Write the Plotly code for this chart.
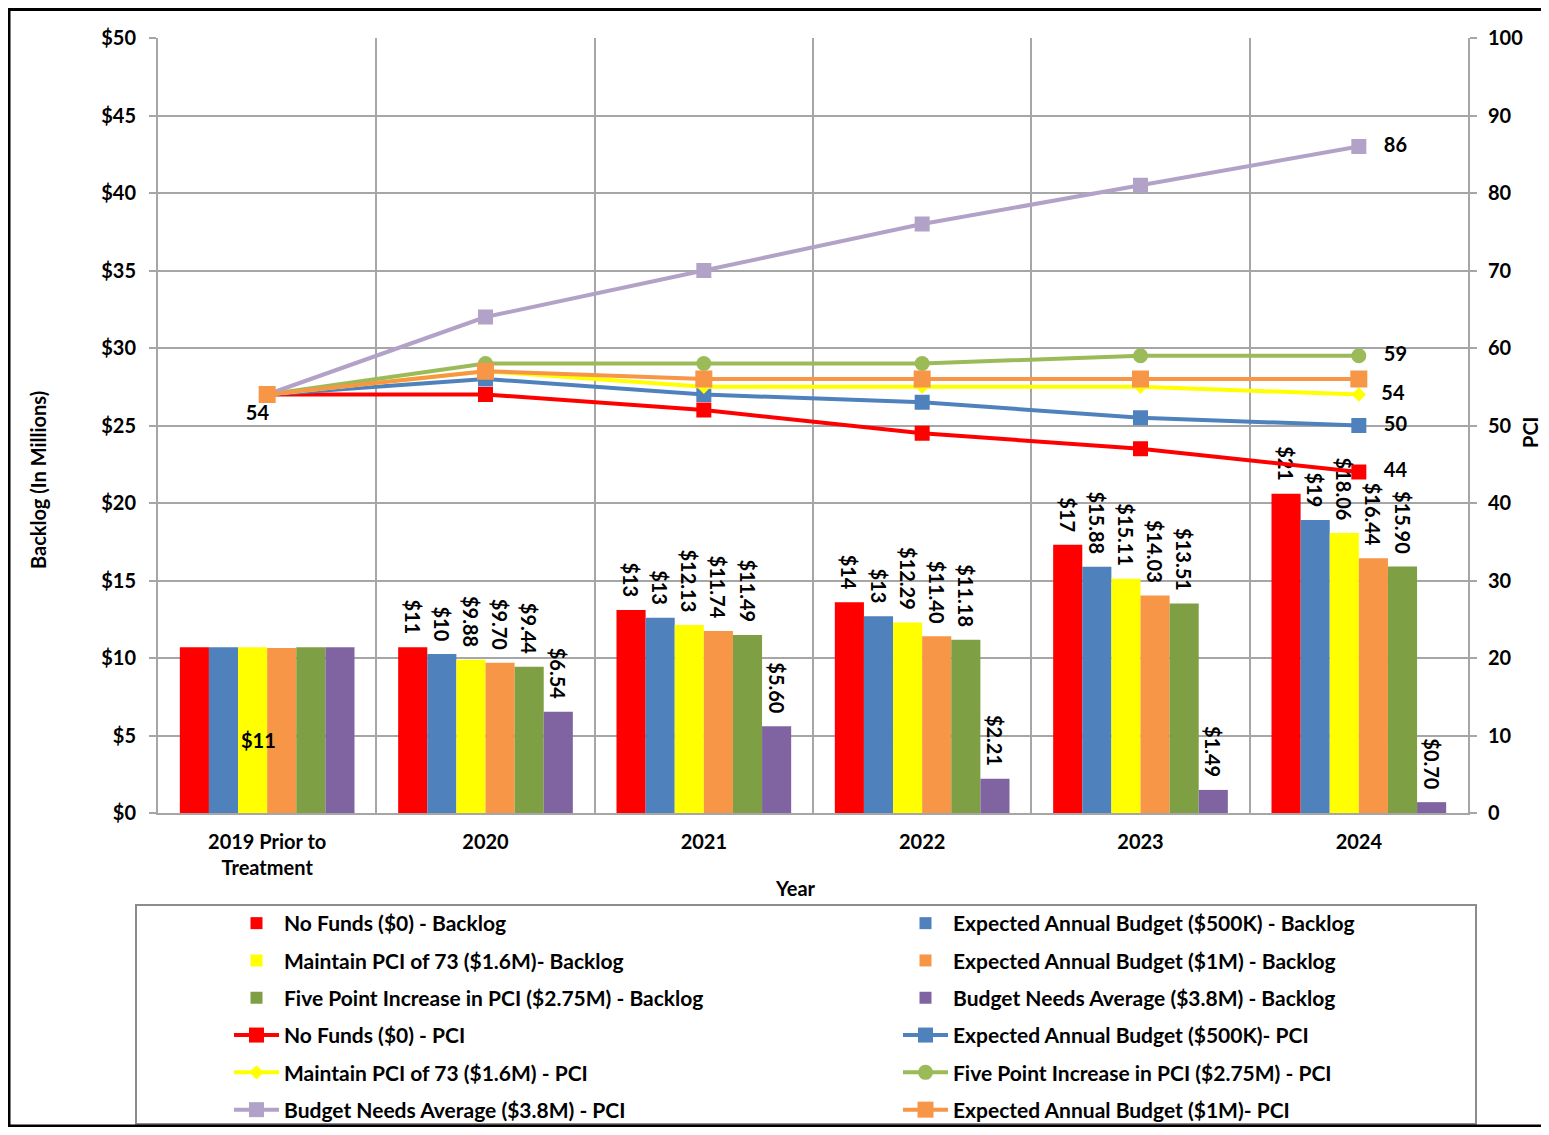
import plotly.graph_objects as go

years = ["2019 Prior to<br>Treatment", "2020", "2021", "2022", "2023", "2024"]

# Backlog ($ millions)
bl_nofunds = [10.7, 10.7, 13.1, 13.6, 17.3, 20.6]
bl_500k = [10.7, 10.26, 12.6, 12.7, 15.88, 18.9]
bl_maintain = [10.7, 9.88, 12.13, 12.29, 15.11, 18.06]
bl_1m = [10.65, 9.70, 11.74, 11.40, 14.03, 16.44]
bl_five = [10.7, 9.44, 11.49, 11.18, 13.51, 15.90]
bl_needs = [10.7, 6.54, 5.60, 2.21, 1.49, 0.70]

# Bar data labels as printed
lb_nofunds = ["", "$11", "$13", "$14", "$17", "$21"]
lb_500k = ["", "$10", "$13", "$13", "$15.88", "$19"]
lb_maintain = ["", "$9.88", "$12.13", "$12.29", "$15.11", "$18.06"]
lb_1m = ["", "$9.70", "$11.74", "$11.40", "$14.03", "$16.44"]
lb_five = ["", "$9.44", "$11.49", "$11.18", "$13.51", "$15.90"]
lb_needs = ["", "$6.54", "$5.60", "$2.21", "$1.49", "$0.70"]

# PCI
pci_nofunds = [54, 54, 52, 49, 47, 44]
pci_500k = [54, 56, 54, 53, 51, 50]
pci_maintain = [54, 57, 55, 55, 55, 54]
pci_five = [54, 58, 58, 58, 59, 59]
pci_needs = [54, 64, 70, 76, 81, 86]
pci_1m = [54, 57, 56, 56, 56, 56]

FONT = "Lato"
FS = 20
OFF = 8  # page body margin
W, H = 1549 - 2 * OFF, 1135 - 2 * OFF
L, R, T, B = 158 - OFF, 1468 - OFF, 38 - OFF, 813 - OFF


def px2x(px):
    return (px - OFF - L) / (R - L)


def px2y(py):
    return (B - (py - OFF)) / (B - T)


def cx(px):
    return (px - OFF) / W


def cy(py):
    return 1 - (py - OFF) / H


NB = "\u00a0"
fig = go.Figure()

bar_specs = [
    ("No Funds ($0) - Backlog", bl_nofunds, lb_nofunds, "#FF0000", "legend"),
    ("Expected Annual Budget ($500K) - Backlog", bl_500k, lb_500k, "#4F81BD", "legend2"),
    ("Maintain PCI of 73 ($1.6M)- Backlog", bl_maintain, lb_maintain, "#FFFF00", "legend"),
    ("Expected Annual Budget ($1M) - Backlog", bl_1m, lb_1m, "#F79646", "legend2"),
    ("Five Point Increase in PCI ($2.75M) - Backlog", bl_five, lb_five, "#7F9F45", "legend"),
    ("Budget Needs Average ($3.8M) - Backlog", bl_needs, lb_needs, "#8064A2", "legend2"),
]
for i, (name, vals, labels, color, lg) in enumerate(bar_specs):
    fig.add_trace(go.Bar(
        x=years, y=vals, name=name, marker=dict(color=color, line=dict(width=0)),
        text=[(t + NB * 2) if t else "" for t in labels],
        textposition="outside", textangle=90, constraintext="none",
        textfont=dict(family=FONT, size=FS, color="black", weight="bold"),
        cliponaxis=False, legend=lg, legendgroup=f"g{i}",
    ))


def lbl(vals, first=False):
    t = [""] * len(vals)
    t[-1] = NB * 3 + str(vals[-1])
    if first:
        t[0] = str(vals[0]) + NB * 4
    return t


def pos(vals, first=False):
    p = ["middle right"] * len(vals)
    if first:
        p[0] = "bottom center"
    return p


line_specs = [
    ("No Funds ($0) - PCI", pci_nofunds, "#FF0000", "square", 15, True, True, "legend"),
    ("Expected Annual Budget ($500K)- PCI", pci_500k, "#4F81BD", "square", 15, True, False, "legend2"),
    ("Maintain PCI of 73 ($1.6M) - PCI", pci_maintain, "#FFFF00", "diamond", 11, True, False, "legend"),
    ("Five Point Increase in PCI ($2.75M) - PCI", pci_five, "#9BBB59", "circle", 15, True, False, "legend2"),
    ("Budget Needs Average ($3.8M) - PCI", pci_needs, "#B3A2C7", "square", 15, True, False, "legend"),
    ("Expected Annual Budget ($1M)- PCI", pci_1m, "#F79646", "square", 17, False, False, "legend2"),
]
for j, (name, vals, color, sym, size, show_last, first, lg) in enumerate(line_specs):
    text = lbl(vals, first) if show_last else [""] * len(vals)
    fig.add_trace(go.Scatter(
        x=years, y=vals, name=name, yaxis="y2", mode="lines+markers+text",
        line=dict(color=color, width=4),
        marker=dict(symbol=sym, size=size, color=color),
        text=text, textposition=pos(vals, first),
        textfont=dict(family=FONT, size=FS, color="black", weight="bold"),
        cliponaxis=False, legend=lg, legendgroup=f"l{j}",
    ))

# 2019 single label
fig.add_annotation(x=years[0], y=bl_maintain[0] / 2, xref="x", yref="y",
                   text=f"${bl_maintain[0]:.0f}", showarrow=False, xshift=-9, yshift=-10,
                   font=dict(family=FONT, size=FS, color="black", weight="bold"))

grid = "#A6A6A6"
tf = dict(family=FONT, size=FS, color="black", weight="bold")
lf = dict(family=FONT, size=21, color="black", weight="bold")
fig.update_layout(
    width=W, height=H,
    margin=dict(l=L, r=W - R, t=T, b=H - B, autoexpand=False),
    paper_bgcolor="white", plot_bgcolor="white",
    barmode="group", bargap=0.2, bargroupgap=0,
    font=dict(family=FONT, size=FS, color="black"),
    xaxis=dict(
        type="category", tickson="boundaries", showgrid=True, gridcolor=grid, gridwidth=2,
        showline=True, linecolor=grid, linewidth=2, ticks="", ticklabelstandoff=10,
        tickfont=tf, automargin=False,
    ),
    yaxis=dict(
        range=[0, 50], dtick=5, tickprefix="$", showgrid=True, gridcolor=grid, gridwidth=2,
        showline=True, linecolor=grid, linewidth=2, ticks="outside", ticklen=7, tickcolor=grid,
        tickwidth=2, zeroline=False, tickfont=tf, automargin=False, ticklabelstandoff=9,
    ),
    yaxis2=dict(
        range=[0, 100], dtick=10, overlaying="y", side="right", showgrid=False,
        showline=True, linecolor=grid, linewidth=2, ticks="outside", ticklen=7, tickcolor=grid,
        tickwidth=2, zeroline=False, tickfont=tf, automargin=False, ticklabelstandoff=7,
    ),
    legend=dict(
        xref="container", yref="container",
        x=cx(229), y=cy(903), xanchor="left", yanchor="top", orientation="v",
        bgcolor="rgba(0,0,0,0)", tracegroupgap=7, itemwidth=45, font=lf,
    ),
    legend2=dict(
        xref="container", yref="container",
        x=cx(898), y=cy(903), xanchor="left", yanchor="top", orientation="v",
        bgcolor="rgba(0,0,0,0)", tracegroupgap=7, itemwidth=45, font=lf,
    ),
)

fig.add_annotation(x=px2x(38), y=px2y(480), xref="paper", yref="paper",
                   xanchor="center", yanchor="middle",
                   text="Backlog (In Millions)", textangle=-90, showarrow=False, font=tf)
fig.add_annotation(x=px2x(1530), y=px2y(432), xref="paper", yref="paper",
                   xanchor="center", yanchor="middle",
                   text="PCI", textangle=-90, showarrow=False, font=tf)
fig.add_annotation(x=px2x(795), y=px2y(888), xref="paper", yref="paper",
                   xanchor="center", yanchor="middle",
                   text="Year", showarrow=False, font=tf)

# Legend frame
fig.add_shape(type="rect", xref="paper", yref="paper",
              x0=px2x(136), x1=px2x(1476), y0=px2y(1124), y1=px2y(905),
              line=dict(color="#8C8C8C", width=2), fillcolor="rgba(0,0,0,0)", layer="below")
# Outer frame
fig.add_shape(type="rect", xref="paper", yref="paper",
              x0=px2x(9), x1=px2x(1570), y0=px2y(1126), y1=px2y(9.5),
              line=dict(color="black", width=3), fillcolor="rgba(0,0,0,0)")

fig.write_html("out.html")
